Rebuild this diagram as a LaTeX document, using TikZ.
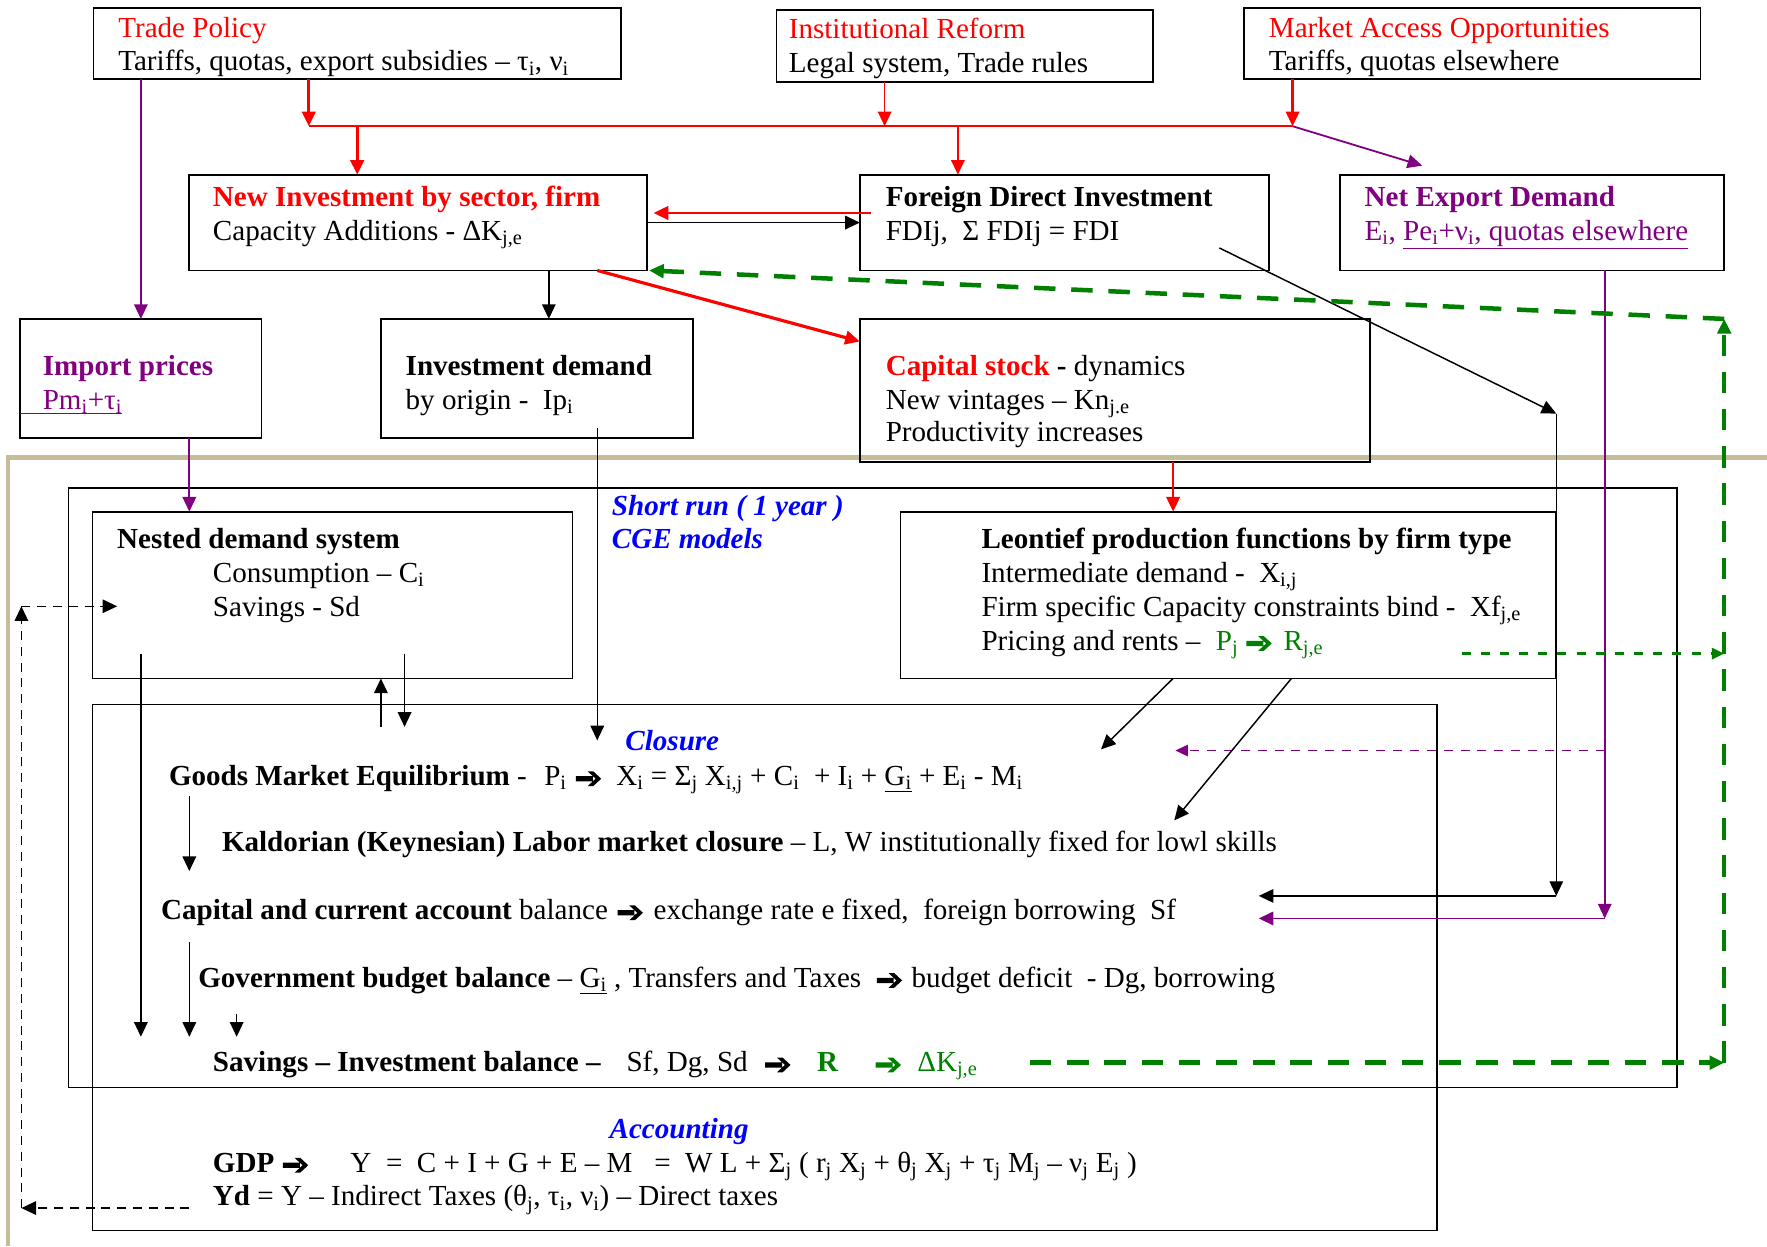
\documentclass[tikz,border=0pt]{standalone}
\usepackage{fontspec}
\setmainfont{Liberation Serif}
\usetikzlibrary{arrows.meta,calc}
\definecolor{wred}{RGB}{255,0,0}
\definecolor{wpur}{RGB}{128,0,128}
\definecolor{wgrn}{RGB}{0,128,0}
\definecolor{wblu}{RGB}{0,0,255}
\definecolor{wtan}{RGB}{197,189,151}
\newcommand{\sbs}[1]{\textsubscript{#1}}
\newcommand{\harr}{\tikz[baseline=0pt,x=1pt,y=1pt]\fill (0,3.7) rectangle (15,8.3) (10.5,12.5) -- (15.5,12.5) -- (22.5,6) -- (15.5,-0.5) -- (10.5,-0.5) -- (17.5,6) -- cycle;}
\begin{document}
\fontsize{25.8pt}{30pt}\selectfont
\begin{tikzpicture}[x=1pt,y=-1pt,
  every node/.style={inner sep=0pt,outer sep=0pt},
  txt/.style={anchor=base west},
  box/.style={draw,line width=1.6pt,anchor=center},
  bigbox/.style={draw,line width=1.3pt,anchor=center},
  ar/.style={-{Triangle[length=13pt,width=12pt]}},
  ars/.style={-{Triangle[length=11pt,width=10pt]}},
  blk/.style={line width=1.3pt,black},
  rthin/.style={line width=1.5pt,wred},
  rmed/.style={line width=2pt,wred},
  rthick/.style={line width=2.8pt,wred},
  pur/.style={line width=1.6pt,wpur},
  gthick/.style={line width=4pt,wgrn,dash pattern=on 19pt off 14pt},
  gthin/.style={line width=2.5pt,wgrn,dash pattern=on 8pt off 9pt},
  pdash/.style={line width=1.6pt,wpur,dash pattern=on 8pt off 7pt},
  bdash/.style={line width=1.3pt,black,dash pattern=on 8pt off 6pt}]
\useasboundingbox (0,0) rectangle (1568,1106);

% ---------- big frames ----------
\node[bigbox,minimum width=1427pt,minimum height=532pt] (sr) at (774.5,699) {};
\node[bigbox,minimum width=1193pt,minimum height=467pt] (cl) at (678.5,858.5) {};
\draw[wtan,line width=4pt] (7,1106) -- (7,406) -- (1568,406);

% ---------- top row ----------
\node[box,minimum width=468pt,minimum height=63pt] (tp) at (317,38.5) {};
\node[txt,text=wred] (tpa) at (105,33) {Trade Policy};
\node[txt] (tpb) at (105,63) {Tariffs, quotas, export subsidies – τ\sbs{i}, ν\sbs{i}};

\node[box,minimum width=334pt,minimum height=64pt] (ir) at (856,41) {};
\node[txt,text=wred] (ira) at (700,34) {Institutional Reform};
\node[txt] (irb) at (700,64) {Legal system, Trade rules};

\node[box,minimum width=405pt,minimum height=63pt] (ma) at (1306.5,38.5) {};
\node[txt,text=wred] (maa) at (1126,33) {Market Access Opportunities};
\node[txt] (mab) at (1126,63) {Tariffs, quotas elsewhere};

% ---------- second row ----------
\node[box,minimum width=406pt,minimum height=85pt] (ni) at (371,197.5) {};
\node[txt,text=wred,font=\bfseries] (nia) at (189,183) {New Investment by sector, firm};
\node[txt] (nib) at (189,213) {Capacity Additions - ΔK\sbs{j,e}};

\node[box,minimum width=363pt,minimum height=85pt] (fdi) at (944.5,197.5) {};
\node[txt,font=\bfseries] (fdia) at (786,183) {Foreign Direct Investment};
\node[txt] (fdib) at (786,213) {FDIj,\ \ Σ FDIj = FDI};

\node[box,minimum width=341pt,minimum height=85pt] (ne) at (1359.5,197.5) {};
\node[txt,text=wpur,font=\bfseries] (nea) at (1211,183) {Net Export Demand};
\node[txt,text=wpur] (neb) at (1211,213) {E\sbs{i}, \underline{Pe\sbs{i}+ν\sbs{i}, quotas elsewhere}};

% ---------- third row ----------
\node[box,minimum width=214pt,minimum height=106pt] (ip) at (125,336) {};
\node[txt,text=wpur,font=\bfseries] (ipa) at (38,333) {Import prices};
\node[txt,text=wpur] (ipb) at (38,363) {Pm\sbs{i}+τ\sbs{i}};
\draw[wpur,line width=1.3pt] (ip.west |- ipb.south) -- (ipb.south east);

\node[box,minimum width=277pt,minimum height=106pt] (id) at (476.5,336) {};
\node[txt,font=\bfseries] (ida) at (360,333) {Investment demand};
\node[txt] (idb) at (360,363) {by origin -\ \ Ip\sbs{i}};

\node[box,minimum width=453pt,minimum height=127pt] (cs) at (989.5,346.5) {};
\node[txt] (csa) at (786,333) {\textcolor{wred}{\bfseries Capital stock}\textbf{ -} dynamics};
\node[txt] (csb) at (786,363) {New vintages – Kn\sbs{j.e}};
\node[txt] (csc) at (786,392) {Productivity increases};

% ---------- short run ----------
\node[txt,text=wblu,font=\bfseries\itshape] (sra) at (543,457) {Short run ( 1 year )};
\node[txt,text=wblu,font=\bfseries\itshape] (srb) at (543,487) {CGE models};

\node[box,minimum width=426pt,minimum height=148pt] (nd) at (295,528) {};
\node[txt,font=\bfseries] (nda) at (104,487) {Nested demand system};
\node[txt] (ndb) at (189,517) {Consumption – C\sbs{i}};
\node[txt] (ndc) at (189,547) {Savings - Sd};

\node[box,minimum width=582pt,minimum height=148pt] (le) at (1090,528) {};
\node[txt,font=\bfseries] (lea) at (871,487) {Leontief production functions by firm type};
\node[txt] (leb) at (871,517) {Intermediate demand -\ \ X\sbs{i,j}};
\node[txt] (lec) at (871,547) {Firm specific Capacity constraints bind -\ \ Xf\sbs{j,e}};
\node[txt] (led) at (871,577) {Pricing and rents –};
\node[txt,text=wgrn] (lee) at (1079,577) {P\sbs{j}};
\node[txt,text=wgrn] (lef) at (1106,577) {\harr};
\node[txt,text=wgrn] (leg) at (1139,577) {R\sbs{j,e}};

% ---------- closure ----------
\node[txt,text=wblu,font=\bfseries\itshape] (clo) at (555,666) {Closure};
\node[txt] (gma) at (150,697) {\textbf{Goods Market Equilibrium} -};
\node[txt] (gmb) at (483,697) {P\sbs{i}};
\node[txt] (gmc) at (511,697) {\harr};
\node[txt] (gmd) at (547,697) {X\sbs{i} = Σ\sbs{j} X\sbs{i,j} + C\sbs{i}\ \ + I\sbs{i} + \underline{G\sbs{i}} + E\sbs{i} - M\sbs{i}};

\node[txt] (kla) at (197,756) {\textbf{Kaldorian (Keynesian) Labor market closure} – L, W institutionally fixed for lowl skills};

\node[txt] (caa) at (143,816) {\textbf{Capital and current account} balance};
\node[txt] (cab) at (548,816) {\harr};
\node[txt] (cac) at (580,816) {exchange rate e fixed,\ \ foreign borrowing\ \ Sf};

\node[txt] (gba) at (176,876) {\textbf{Government budget balance} – \underline{G\sbs{i}} , Transfers and Taxes};
\node[txt] (gbb) at (778,876) {\harr};
\node[txt] (gbc) at (809,876) {budget deficit\ \ - Dg, borrowing};

\node[txt,font=\bfseries] (sia) at (189,951) {Savings – Investment balance –};
\node[txt] (sib) at (556,951) {Sf, Dg, Sd};
\node[txt] (sic) at (679,951) {\harr};
\node[txt,text=wgrn,font=\bfseries] (sid) at (725,951) {R};
\node[txt,text=wgrn] (sie) at (777,951) {\harr};
\node[txt,text=wgrn] (sif) at (814,951) {ΔK\sbs{j,e}};

\node[txt,text=wblu,font=\bfseries\itshape] (acc) at (541,1010) {Accounting};
\node[txt,font=\bfseries] (gda) at (189,1040) {GDP};
\node[txt] (gdb) at (251,1040) {\harr};
\node[txt] (gdc) at (311,1040) {Y\ \ =\ \ C + I + G + E – M\ \ \ =\ \ W L + Σ\sbs{j} ( r\sbs{j} X\sbs{j} + θ\sbs{j} X\sbs{j} + τ\sbs{j} M\sbs{j} – ν\sbs{j} E\sbs{j} )};
\node[txt] (yda) at (189,1070) {\textbf{Yd} = Y – Indirect Taxes (θ\sbs{j}, τ\sbs{i}, ν\sbs{i}) – Direct taxes};

% ---------- connectors ----------
\coordinate (j1) at (274,112);
\coordinate (j2) at (1147,112);
\draw[rthick,ar] ($(tp.south west)+(191,0)$) -- (j1);
\draw[rthin] (j1) -- (j2);
\draw[rthin,ar] ($(ir.south west)+(96,0)$) -- ++(0,39);
\draw[rmed,ar] ($(ma.south west)+(43,0)$) -- (j2);
\draw[rthick,ar] ($(j1)+(43,0)$) -- ($(ni.north west)+(149,0)$);
\draw[rthin,ar] ($(j1)+(576,0)$) -- ($(fdi.north west)+(87,0)$);
\draw[pur,ar] (j2) -- ($(ne.north west)+(73,-8)$);

\draw[rmed,ar] ($(fdi.west)+(10,-8.5)$) -- ($(ni.east)+(6,-8.5)$);
\draw[blk,ar] (ni.east) -- (fdi.west);
\draw[rthick,ar] ($(ni.south east)+(-44,0)$) -- ($(cs.north west)+(0,20)$);
\draw[blk,ar] ($(ni.south west)+(319,0)$) -- ($(id.north west)+(149,0)$);
\draw[pur,ar] ($(tp.south west)+(42,0)$) -- ($(ip.north west)+(107,0)$);
\draw[pur,ar] ($(ip.south west)+(150,0)$) -- ($(nd.north west)+(86,0)$);
\draw[rmed,ar] ($(cs.south west)+(278,0)$) -- ($(le.north west)+(242,0)$);

\coordinate (bk1) at ($(le.north east)+(0,-87)$);
\coordinate (bk2) at ($(le.north east)+(0,341)$);
\draw[blk,ar] ($(fdi.north west)+(319,65)$) -- (bk1);
\draw[blk,ar] (bk1) -- (bk2);
\draw[blk,ar] (bk2) -- ++(-264,0);

\coordinate (pk1) at ($(ne.south west)+(235,575)$);
\draw[pur,ar] ($(ne.south west)+(235,0)$) -- (pk1);
\draw[pur,ar] (pk1) -- ++(-307,0);
\draw[pdash,ars] ($(ne.south west)+(235,426)$) -- ++(-381,0);

\draw[blk,ar] ($(id.south west)+(192,-9)$) -- ($(cl.north west)+(448,32)$);
\draw[blk,ar] ($(nd.south west)+(43,-22)$) -- ($(cl.north west)+(43,295)$);
\draw[blk,ar] ($(cl.north west)+(256,20)$) -- ($(nd.south west)+(256,0)$);
\draw[blk,ar] ($(nd.south west)+(277,-22)$) -- ($(cl.north west)+(277,20)$);
\draw[blk,ar] ($(cl.north west)+(86,81)$) -- ++(0,67);
\draw[blk,ar] ($(cl.north west)+(86,211)$) -- ++(0,84);
\draw[blk,ar] ($(cl.north west)+(128,275)$) -- ++(0,20);
\draw[blk,ar] ($(le.south west)+(242,0)$) -- ++(-64,63);
\draw[blk,ar] ($(le.south west)+(347,0)$) -- ++(-104,126);

\coordinate (dk1) at (19,1072);
\coordinate (dk2) at (19,538);
\draw[bdash,ar] ($(cl.north west)+(86,447)$) -- (dk1);
\draw[bdash,ar] (dk1) -- (dk2);
\draw[bdash,ar] (dk2) -- ($(nd.west)+(22,10)$);

\coordinate (gk1) at (1530,943);
\coordinate (gk2) at (1530,283);
\draw[gthick,ar] ($(cl.north west)+(832,318)$) -- (gk1);
\draw[gthick,ar] (gk1) -- (gk2);
\draw[gthick,ar] (gk2) -- ($(ni.south east)+(2,0)$);
\draw[gthin,ars] ($(le.south east)+(-84,-22)$) -- ($(gk1)+(0,-363)$);
\end{tikzpicture}
\end{document}
